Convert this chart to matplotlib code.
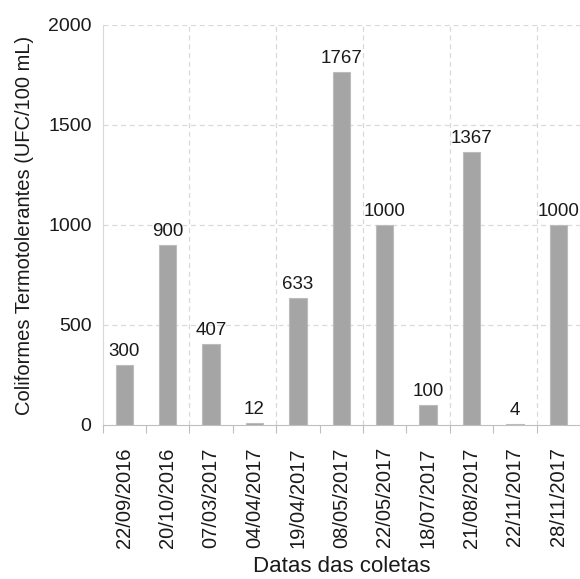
import matplotlib.pyplot as plt
import numpy as np

datas = ["22/09/2016", "20/10/2016", "07/03/2017", "04/04/2017", "19/04/2017",
         "08/05/2017", "22/05/2017", "18/07/2017", "21/08/2017", "22/11/2017",
         "28/11/2017"]
coliformes = [300, 900, 407, 12, 633, 1767, 1000, 100, 1367, 4, 1000]

plt.rcParams['font.family'] = ['Liberation Sans', 'DejaVu Sans']

fig = plt.figure(figsize=(5.8, 5.79), dpi=100)
ax = fig.add_axes([0.177, 0.266, 0.823, 0.691])

x = np.arange(len(datas))
bars = ax.bar(x, coliformes, width=0.4, color='#a5a5a5', edgecolor='#bcbcbc',
              linewidth=0.8, zorder=3)
for xi, v in zip(x, coliformes):
    ax.text(xi, v + 25, str(v), ha='center', va='bottom', fontsize=13.5, color='#1a1a1a')

ax.set_xlim(-0.5, len(datas) - 0.5)
ax.set_ylim(0, 2000)
ax.set_yticks([0, 500, 1000, 1500, 2000])

# horizontal dashed gridlines
for yv in [500, 1000, 1500, 2000]:
    ax.axhline(yv, color='#d9d9d9', linestyle=(0, (4, 3)), linewidth=0.9, zorder=1)
# vertical dashed gridlines every second category
for b in np.arange(1.5, len(datas), 2):
    ax.axvline(b, color='#d9d9d9', linestyle=(0, (4, 3)), linewidth=0.9, zorder=1)

for s in ['top', 'right']:
    ax.spines[s].set_visible(False)
ax.spines['left'].set_color('#d9d9d9')
ax.spines['bottom'].set_color('#bfbfbf')
ax.spines['left'].set_zorder(2)

ax.set_xticks(np.arange(-0.5, len(datas), 1), minor=False)
ax.set_xticklabels([])
ax.set_xticks(x, minor=True)
ax.set_xticklabels(datas, minor=True, rotation=90, fontsize=14.5, color='#1a1a1a')
ax.tick_params(axis='x', which='major', length=6, color='#bfbfbf')
ax.tick_params(axis='x', which='minor', length=0, pad=16)
ax.tick_params(axis='y', length=0, labelsize=14, labelcolor='#1a1a1a', pad=8)

ax.set_ylabel('Coliformes Termotolerantes (UFC/100 mL)', fontsize=14.5, color='#1a1a1a', labelpad=10)
ax.set_xlabel('Datas das coletas', fontsize=16, color='#1a1a1a', labelpad=6)

fig.savefig('out.png', dpi=100)
